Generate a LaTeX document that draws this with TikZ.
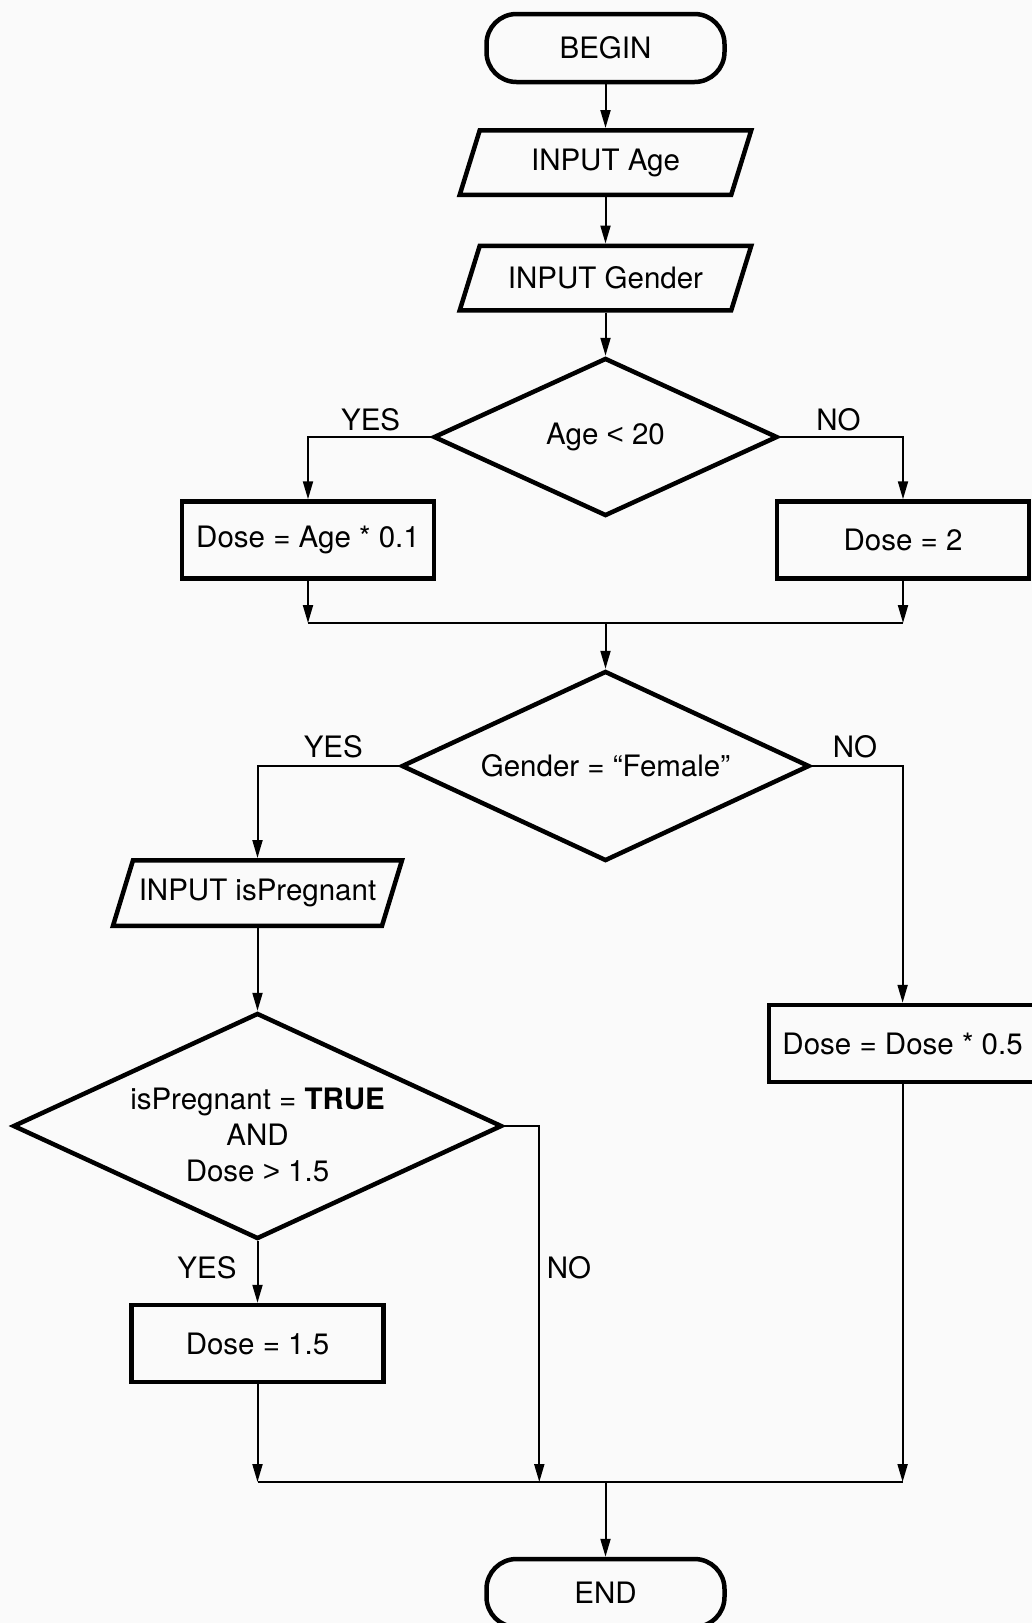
\documentclass[tikz,border=0pt]{standalone}
\usepackage{fontspec}
\setmainfont{TeX Gyre Heros}
\newfontfamily\symf{Liberation Sans}
\usetikzlibrary{shapes.geometric,arrows.meta,calc}
\definecolor{bg}{HTML}{FAFAFA}
\begin{document}
\begin{tikzpicture}[x=1pt,y=-1pt,
  every node/.style={font=\fontsize{29.5}{36}\selectfont, inner sep=0pt},
  shp/.style={draw, line width=4.5pt},
  term/.style={shp, rectangle, rounded corners=30pt, minimum width=238pt, minimum height=68pt},
  proc/.style={shp, rectangle, minimum width=252pt, minimum height=77pt},
  dia/.style={shp, diamond},
  iobox/.style={rectangle, minimum width=271.5pt, minimum height=64.5pt, outer sep=2.25pt},
  conn/.style={line width=2pt},
  arr/.style={conn, -{Triangle[length=18pt,width=10pt]}}
]
\fill[bg] (0,0) rectangle (1032,1623);
\useasboundingbox (0,0) rectangle (1032,1623);

\node[term] (begin) at (605.5,48) {BEGIN};
\node[iobox] (inage) at (605.5,162.5) {INPUT Age};
\node[iobox] (ingender) at (605.5,278) {INPUT Gender};
\node[dia, minimum width=344pt, minimum height=158pt] (d1) at (605.5,437) {};
\node (t1) at (d1) {Age {\symf <} 20};
\node[proc] (dage) at (308,540) {Dose = Age * 0.1};
\node[proc] (dtwo) at (903,540) {Dose = 2};
\node[dia, minimum width=408pt, minimum height=190pt] (d2) at (605.5,766) {};
\node (t2) at (d2) {Gender = “Female”};
\node[iobox, minimum width=269pt, minimum height=65.5pt] (inpreg) at (257.5,893) {INPUT isPregnant};
\node[dia, minimum width=489pt, minimum height=226pt] (d3) at (257.5,1126) {};
\node[align=center] (t3) at (257.5,1135) {isPregnant = \textbf{TRUE}\\AND\\Dose {\symf >} 1.5};
\node[proc] (d15) at (257.5,1343.5) {Dose = 1.5};
\node[proc, minimum width=267pt] (dhalf) at (902.6,1043.5) {Dose = Dose * 0.5};
\node[term] (end) at (605.5,1593) {END};

% parallelograms (center line inset by half the line width)
\foreach \n/\s in {inage/10, ingender/10, inpreg/10}{
  \draw[shp] ($(\n.north west)+(\s+2.25,2.25)$) -- ($(\n.north east)+(\s-2.25,2.25)$) -- ($(\n.south east)+(-\s-2.25,-2.25)$) -- ($(\n.south west)+(-\s+2.25,-2.25)$) -- cycle;
}

% labels
\node (y1) at (370.6,420) {YES};
\node (n1) at (838.4,420) {NO};
\node (y2) at (333.3,747) {YES};
\node (n2) at (855,747) {NO};
\node (y3) at (207,1268) {YES};
\node (n3) at (569,1268) {NO};

% merge points
\coordinate (m1) at (605.5,623);
\coordinate (m1l) at (dage |- m1);
\coordinate (m1r) at (dtwo |- m1);
\coordinate (nox) at (539.3,1126);
\coordinate (m2) at (605.5,1482);
\coordinate (m2l) at (d15 |- m2);
\coordinate (m2n) at (nox |- m2);
\coordinate (m2r) at (dhalf |- m2);

% connectors
\draw[arr] (begin.south) -- (inage.north);
\draw[arr] (inage.south) -- (ingender.north);
\draw[arr] (ingender.south) -- (d1.north);
\draw[arr] (d1.west) -| (dage.north);
\draw[arr] (d1.east) -| (dtwo.north);
\draw[arr] (dage.south) -- (m1l);
\draw[arr] (dtwo.south) -- (m1r);
\draw[conn] (m1l) -- (m1r);
\draw[arr] (m1) -- (d2.north);
\draw[arr] (d2.west) -| (inpreg.north);
\draw[arr] (d2.east) -| (dhalf.north);
\draw[arr] (inpreg.south) -- (d3.north);
\draw[arr] (d3.south) -- (d15.north);
\draw[arr] (d15.south) -- (m2l);
\draw[arr] (d3.east) -- (nox) -- (m2n);
\draw[arr] (dhalf.south) -- (m2r);
\draw[conn] (m2l) -- (m2r);
\draw[arr] (m2) -- (end.north);
\end{tikzpicture}
\end{document}
